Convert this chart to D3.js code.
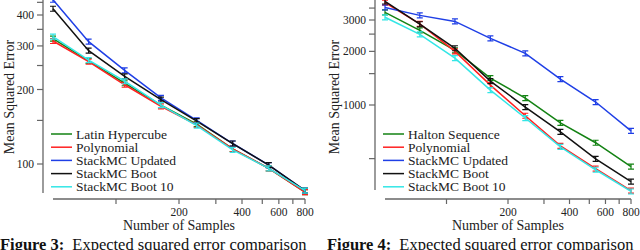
<!DOCTYPE html>
<html>
<head>
<meta charset="utf-8">
<script src="https://cdn.jsdelivr.net/npm/d3@7"></script>
<style>
  body { margin: 0; background: #fff; font-family: "Liberation Serif", serif; }
  svg text { font-family: "Liberation Serif", "Times New Roman", serif; }
</style>
</head>
<body>
<div id="viz-container"></div>
<script>
// sample sizes on the x axis (same for both panels)
let samples = [50, 74, 110, 164, 243, 361, 537, 800];

let seriesColors = ["#138213", "#ff2020", "#1f3fe6", "#111111", "#33e6e6"];

// left panel (Figure 3)
let leftNames = ["Latin Hypercube", "Polynomial", "StackMC Updated", "StackMC Boot", "StackMC Boot 10"];
let leftLatin = [321, 261, 212, 173, 145, 115, 96, 77];
let leftPoly = [314, 259, 209, 171, 144, 115, 96, 77];
let leftUpdated = [461, 312, 239, 185, 150, 121, 99, 78];
let leftBoot = [424, 287, 226, 182, 149, 121, 99, 78];
let leftBoot10 = [327, 263, 216, 173, 143, 114, 96, 78];

// right panel (Figure 4)
let rightNames = ["Halton Sequence", "Polynomial", "StackMC Updated", "StackMC Boot", "StackMC Boot 10"];
let rightHalton = [3311, 2624, 2028, 1415, 1094, 793, 614, 451];
let rightPoly = [3760, 2850, 2000, 1293, 870, 590, 439, 331];
let rightUpdated = [3527, 3185, 2946, 2366, 1951, 1397, 1039, 716];
let rightBoot = [3811, 2840, 2082, 1361, 974, 706, 499, 371];
let rightBoot10 = [3107, 2492, 1831, 1213, 845, 582, 433, 327];

// ticks
let xTicks = [100, 200, 300, 400, 500, 600, 700, 800];
let xTickLabels = [200, 400, 600, 800];
let leftYTicks = [150, 250, 350, 450];
let leftYLabels = [100, 200, 300, 400];
let rightYTicks = [500, 1500, 2500, 3500];
let rightYLabels = [1000, 2000, 3000];

let axisColor = "#666";
let serif = "'Liberation Serif', 'Times New Roman', serif";
let viz;

function drawPanel(cfg){
  let g = viz.append("g");

  let x = d3.scaleLog().domain([50, 800]).range(cfg.xRange);
  let y = d3.scaleLog().domain(cfg.yDomain).range(cfg.yRange);

  // y axis (detached from x axis)
  g.append("line")
    .attr("x1", cfg.yAxisX).attr("x2", cfg.yAxisX)
    .attr("y1", 0).attr("y2", cfg.yAxisBottom)
    .attr("stroke", axisColor).attr("stroke-width", 1.3);

  let allY = cfg.yLabels.concat(cfg.yTicks);
  g.selectAll(".ytick").data(allY).enter().append("line")
    .attr("x1", cfg.yAxisX - 6).attr("x2", cfg.yAxisX)
    .attr("y1", d => y(d)).attr("y2", d => y(d))
    .attr("stroke", axisColor).attr("stroke-width", 1.2);

  g.selectAll(".ylab").data(cfg.yLabels).enter().append("text")
    .attr("x", cfg.yAxisX - 9)
    .attr("y", d => y(d) + 4)
    .attr("text-anchor", "end")
    .attr("font-family", serif)
    .attr("font-size", 11.5)
    .attr("fill", "#222")
    .text(d => d);

  // x axis
  let xAxisY = 199;
  g.append("line")
    .attr("x1", cfg.xRange[0]).attr("x2", cfg.xRange[1])
    .attr("y1", xAxisY).attr("y2", xAxisY)
    .attr("stroke", axisColor).attr("stroke-width", 1.3);

  g.selectAll(".xtick").data(xTicks).enter().append("line")
    .attr("x1", d => x(d)).attr("x2", d => x(d))
    .attr("y1", xAxisY).attr("y2", xAxisY + 5)
    .attr("stroke", axisColor).attr("stroke-width", 1.2);

  g.selectAll(".xlab").data(xTickLabels).enter().append("text")
    .attr("x", d => x(d))
    .attr("y", 216)
    .attr("text-anchor", "middle")
    .attr("font-family", serif)
    .attr("font-size", 11.5)
    .attr("fill", "#222")
    .text(d => d);

  // axis titles
  g.append("text")
    .attr("x", (cfg.xRange[0] + cfg.xRange[1]) / 2)
    .attr("y", 230)
    .attr("text-anchor", "middle")
    .attr("font-family", serif)
    .attr("font-size", 14)
    .attr("fill", "#222")
    .text("Number of Samples");

  g.append("text")
    .attr("transform", "translate(" + cfg.yTitleX + ",97) rotate(-90)")
    .attr("text-anchor", "middle")
    .attr("font-family", serif)
    .attr("font-size", 14)
    .attr("fill", "#222")
    .text("Mean Squared Error");

  // lines
  let line = d3.line()
    .x((d, i) => x(samples[i]))
    .y(d => y(d));

  // draw order: green, red, blue, black, cyan
  cfg.series.forEach(function(vals, k){
    g.append("path")
      .attr("d", line(vals))
      .attr("fill", "none")
      .attr("stroke", seriesColors[k])
      .attr("stroke-width", 1.5);

    // small error bars
    g.selectAll(".err" + k).data(vals).enter().append("path")
      .attr("d", function(d, i){
        let cx = x(samples[i]), cy = y(d);
        return "M" + (cx - 3) + "," + (cy - 2.5) + "H" + (cx + 3) +
               "M" + cx + "," + (cy - 2.5) + "V" + (cy + 2.5) +
               "M" + (cx - 3) + "," + (cy + 2.5) + "H" + (cx + 3);
      })
      .attr("fill", "none")
      .attr("stroke", seriesColors[k])
      .attr("stroke-width", 1.2);
  });

  // legend
  let leg = g.selectAll(".legend").data(cfg.names).enter().append("g")
    .attr("transform", (d, i) => "translate(" + cfg.legendX + "," + (134 + i * 13.2) + ")");

  leg.append("line")
    .attr("x1", 0).attr("x2", 21)
    .attr("y1", 0).attr("y2", 0)
    .attr("stroke", (d, i) => seriesColors[i])
    .attr("stroke-width", 1.5);

  leg.append("text")
    .attr("x", 25)
    .attr("y", 4.5)
    .attr("font-family", serif)
    .attr("font-size", 13.5)
    .attr("fill", "#222")
    .text(d => d);

  // caption (cut off at the bottom edge)
  let cap = g.append("text")
    .attr("x", cfg.captionX)
    .attr("y", 250)
    .attr("font-family", serif)
    .attr("font-size", 16.5)
    .attr("fill", "#111");
  cap.append("tspan").attr("font-weight", "bold").text(cfg.caption);
  cap.append("tspan").attr("dx", 8).text("Expected squared error comparison");
}

function draw(){
  viz = d3.select("#viz-container")
    .append("svg")
      .attr("width", 640)
      .attr("height", 250);

  drawPanel({
    xRange: [53, 305],
    yDomain: [100, 400],
    yRange: [164, 15],
    yAxisX: 43,
    yAxisBottom: 193,
    yLabels: leftYLabels,
    yTicks: leftYTicks,
    yTitleX: 14,
    names: leftNames,
    series: [leftLatin, leftPoly, leftUpdated, leftBoot, leftBoot10],
    legendX: 51,
    captionX: 0,
    caption: "Figure 3:"
  });

  drawPanel({
    xRange: [385, 631],
    yDomain: [1000, 3000],
    yRange: [105, 20],
    yAxisX: 375,
    yAxisBottom: 190,
    yLabels: rightYLabels,
    yTicks: rightYTicks,
    yTitleX: 339,
    names: rightNames,
    series: [rightHalton, rightPoly, rightUpdated, rightBoot, rightBoot10],
    legendX: 383,
    captionX: 327,
    caption: "Figure 4:"
  });
}

// make sure the serif face is ready before laying out text
if (document.fonts && document.fonts.load) {
  Promise.all([
    document.fonts.load("14px 'Liberation Serif'"),
    document.fonts.load("bold 14px 'Liberation Serif'")
  ]).then(draw, draw);
} else {
  draw();
}
</script>
</body>
</html>
